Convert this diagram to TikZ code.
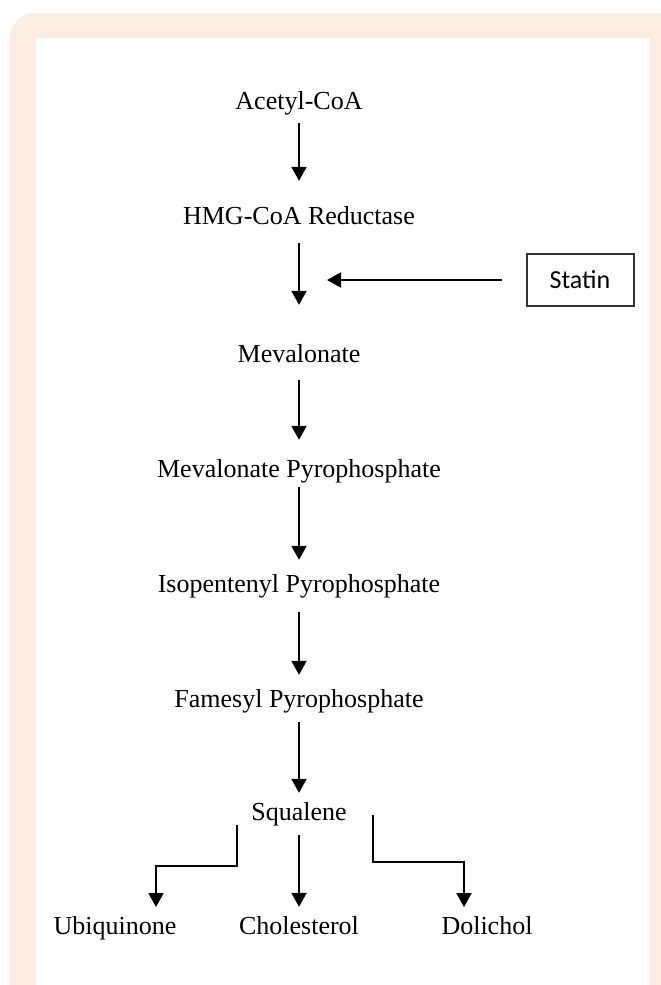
\documentclass[tikz,border=0pt]{standalone}
\usepackage{fontspec}
\setmainfont{Liberation Serif}
\newfontfamily\calibri{Carlito}
\usepackage{tikz}
\usetikzlibrary{arrows.meta}
\usepackage{xcolor}
\definecolor{framebeige}{RGB}{252,236,226}
\definecolor{boxgray}{RGB}{50,50,50}

\begin{document}
\begin{tikzpicture}[x=1pt,y=-1pt,
  compound/.style={inner sep=0pt,text height=18pt,text depth=6pt,
    font=\fontsize{26}{30}\selectfont},
  drugbox/.style={draw=boxgray,line width=2pt,minimum width=107pt,
    minimum height=52pt,inner sep=0pt,font=\calibri\fontsize{26}{30}\selectfont},
  flow/.style={line width=2pt,-{Triangle[width=15pt,length=14pt]}}]
  \useasboundingbox (0,0) rectangle (661,985);
  \fill[framebeige,rounded corners=25pt] (10,13) rectangle (690,1010);
  \fill[white] (36,38) rectangle (650,990);
  \node[compound] (acetyl) at (299,103) {Acetyl-CoA};
  \node[compound] (hmg) at (299,218) {HMG-CoA Reductase};
  \node[compound] (meval) at (299,356) {Mevalonate};
  \node[compound] (mpp) at (299,471) {Mevalonate Pyrophosphate};
  \node[compound] (ipp) at (299,586) {Isopentenyl Pyrophosphate};
  \node[compound] (fpp) at (299,701) {Famesyl Pyrophosphate};
  \node[compound] (squal) at (299,814) {Squalene};
  \node[compound] (ubi) at (115,928) {Ubiquinone};
  \node[compound] (chol) at (299,928) {Cholesterol};
  \node[compound] (doli) at (487,928) {Dolichol};
  \node[drugbox] (statin) at (580,280) {Statin};
  \coordinate (block) at (327,280);
  \coordinate (sqleft) at (237,825);
  \coordinate (sqright) at (373,815);
  \coordinate (ubiin) at (156,907);
  \coordinate (doliin) at (464,907);
  \draw[flow,shorten <=8pt,shorten >=25pt] (acetyl) -- (hmg);
  \draw[flow,shorten <=13pt,shorten >=39pt] (hmg) -- (meval);
  \draw[flow,shorten <=12pt,shorten >=19pt] (meval) -- (mpp);
  \draw[flow,shorten <=4pt,shorten >=14pt] (mpp) -- (ipp);
  \draw[flow,shorten <=14pt,shorten >=14pt] (ipp) -- (fpp);
  \draw[flow,shorten <=9pt,shorten >=9pt] (fpp) -- (squal);
  \draw[flow,shorten <=24pt] (statin) -- (block);
  \draw[flow,shorten <=9pt,shorten >=9pt] (squal) -- (chol);
  \draw[flow] (sqleft) -- ++(0,41) -| (ubiin);
  \draw[flow] (sqright) -- ++(0,47) -| (doliin);
\end{tikzpicture}
\end{document}
